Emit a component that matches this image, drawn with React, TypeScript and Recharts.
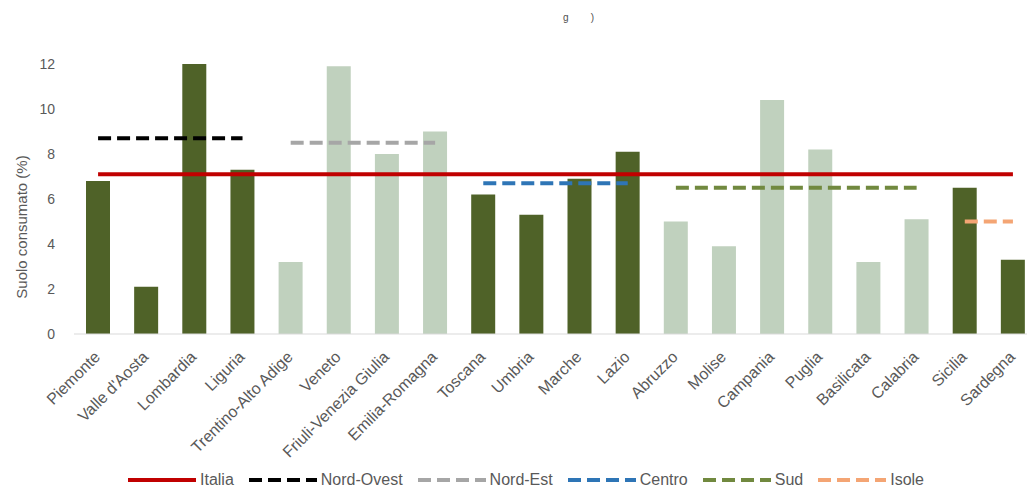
import React from 'react';
import { ComposedChart, Bar, Line, XAxis, YAxis, Cell, Legend } from 'recharts';

const regions = [
  'Piemonte', "Valle d'Aosta", 'Lombardia', 'Liguria', 'Trentino-Alto Adige', 'Veneto',
  'Friuli-Venezia Giulia', 'Emilia-Romagna', 'Toscana', 'Umbria', 'Marche', 'Lazio',
  'Abruzzo', 'Molise', 'Campania', 'Puglia', 'Basilicata', 'Calabria', 'Sicilia', 'Sardegna',
];
const consumed = [6.8, 2.1, 12.0, 7.3, 3.2, 11.9, 8.0, 9.0, 6.2, 5.3, 6.9, 8.1, 5.0, 3.9, 10.4, 8.2, 3.2, 5.1, 6.5, 3.3];
const macroNames = ['Nord-Ovest', 'Nord-Est', 'Centro', 'Sud', 'Isole'];
const macroOfRegion = [0, 0, 0, 0, 1, 1, 1, 1, 2, 2, 2, 2, 3, 3, 3, 3, 3, 3, 4, 4];
const macroAverages = [8.7, 8.5, 6.7, 6.5, 5.0];
const italiaName = 'Italia';
const italiaAverage = 7.1;
const yTicks = [0, 2, 4, 6, 8, 10, 12];
const yLabel = 'Suolo consumato (%)';
const titleFragment = 'g        )';

const FONT = '"Liberation Sans", Arial, sans-serif';
const TEXT = '#595959';
const italiaColor = '#c00000';
const macroColors = ['#000000', '#a6a6a6', '#2e75b6', '#71893f', '#f4a574'];
const barColorsByMacro = ['#4f6228', '#c0d1be', '#4f6228', '#c0d1be', '#4f6228'];
const DASH = '13 6';

const data = regions.map((name, i) => {
  const row: any = { name, value: consumed[i], [italiaName]: italiaAverage };
  macroNames.forEach((m, k) => {
    row[m] = macroOfRegion[i] === k ? macroAverages[k] : null;
  });
  return row;
});

const legendItems = [
  { name: italiaName, color: italiaColor, dash: undefined as string | undefined },
  ...macroNames.map((m, k) => ({ name: m, color: macroColors[k], dash: DASH })),
];

const XTick = (props: any) => {
  const { x, y, payload } = props;
  const ax = x + 3;
  const ay = y + 24;
  return (
    <text
      x={ax}
      y={ay}
      transform={`rotate(-45 ${ax} ${ay})`}
      textAnchor="end"
      fontSize={16}
      fontFamily={FONT}
      fill={TEXT}
    >
      {payload.value}
    </text>
  );
};

const YLabel = (props: any) => {
  const vb = props.viewBox || { x: 0, y: 64, width: 74, height: 270 };
  const cx = vb.x + 21;
  const cy = vb.y + vb.height / 2 + 28;
  return (
    <text
      x={cx}
      y={cy}
      transform={`rotate(-90 ${cx} ${cy})`}
      textAnchor="middle"
      dominantBaseline="central"
      fontSize={15}
      fontFamily={FONT}
      fill={TEXT}
    >
      {yLabel}
    </text>
  );
};

const LegendContent = () => (
  <div style={{ display: 'flex', alignItems: 'center', fontFamily: FONT, fontSize: 16, color: TEXT, whiteSpace: 'nowrap' }}>
    {legendItems.map((it) => (
      <div key={it.name} style={{ display: 'flex', alignItems: 'center', marginRight: 15 }}>
        <svg width={68} height={10} style={{ display: 'block' }}>
          <line x1={0} y1={5} x2={68} y2={5} stroke={it.color} strokeWidth={4} strokeDasharray={it.dash} />
        </svg>
        <span style={{ marginLeft: 4 }}>{it.name}</span>
      </div>
    ))}
  </div>
);

export default function App() {
  return (
    <div style={{ position: 'absolute', left: 0, top: 0, width: 1027, height: 489, overflow: 'hidden', background: '#ffffff' }}>
      <div style={{ position: 'absolute', left: 563, top: 12, fontFamily: FONT, fontSize: 10, lineHeight: '12px', color: '#505050', whiteSpace: 'pre' }}>
        {titleFragment}
      </div>
      <ComposedChart
        width={1045}
        height={489}
        data={data}
        margin={{ top: 64, right: 8, bottom: 35, left: 0 }}
        barSize={24}
      >
        <XAxis
          dataKey="name"
          interval={0}
          height={120}
          tickLine={false}
          tickSize={0}
          tickMargin={0}
          axisLine={{ stroke: '#d9d9d9', strokeWidth: 1 }}
          tick={<XTick />}
        />
        <YAxis
          width={74}
          domain={[0, 12]}
          ticks={yTicks}
          axisLine={false}
          tickLine={false}
          tickSize={0}
          tickMargin={19}
          tick={{ fontSize: 14, fill: TEXT, fontFamily: FONT }}
          label={<YLabel />}
        />
        <Bar dataKey="value" isAnimationActive={false}>
          {data.map((d, i) => (
            <Cell key={d.name} fill={barColorsByMacro[macroOfRegion[i]]} />
          ))}
        </Bar>
        <Line
          dataKey={italiaName}
          stroke={italiaColor}
          strokeWidth={4}
          dot={false}
          activeDot={false}
          isAnimationActive={false}
        />
        {macroNames.map((m, k) => (
          <Line
            key={m}
            dataKey={m}
            stroke={macroColors[k]}
            strokeWidth={4}
            strokeDasharray={DASH}
            dot={false}
            activeDot={false}
            connectNulls={false}
            isAnimationActive={false}
          />
        ))}
        <Legend
          layout="horizontal"
          verticalAlign="middle"
          align="center"
          content={<LegendContent />}
          wrapperStyle={{ left: 128, top: 471, width: 'auto' }}
        />
      </ComposedChart>
    </div>
  );
}
